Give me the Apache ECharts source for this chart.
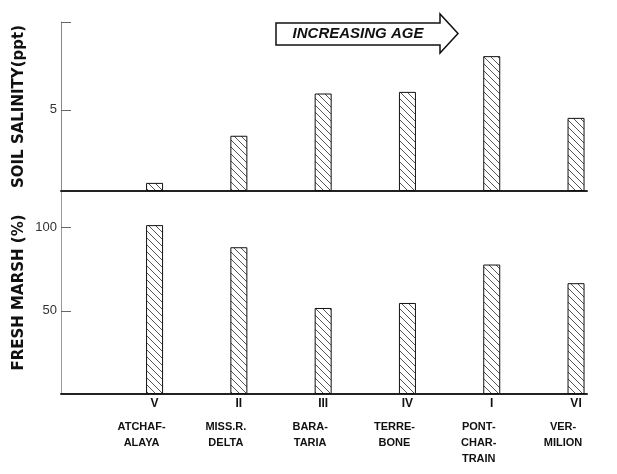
<!DOCTYPE html>
<html>
<head>
<meta charset="utf-8">
<script src="https://cdn.jsdelivr.net/npm/echarts@6/dist/echarts.min.js"></script>
<style>html,body{margin:0;padding:0;background:#fff}#c{width:617px;height:474px}</style>
</head>
<body>
<div id="c"></div>
<script>
// ---- data ----
const categories = ['ATCHAF-\nALAYA', 'MISS.R.\nDELTA', 'BARA-\nTARIA', 'TERRE-\nBONE', 'PONT-\nCHAR-\nTRAIN', 'VER-\nMILION'];
const numerals = ['V', 'II', 'III', 'IV', 'I', 'VI'];
const positions = [1, 2, 3, 4, 5, 6];
const salinity = [0.5, 3.4, 6.0, 6.1, 8.3, 4.5];
const freshMarsh = [101.5, 88.2, 51.7, 54.7, 77.8, 66.6];
const salinityTicks = [5];
const marshTicks = [50, 100];

// ---- hatch pattern ----
function hatch() {
  const s = 7;
  const c = document.createElement('canvas');
  c.width = s; c.height = s;
  const g = c.getContext('2d');
  g.fillStyle = '#fff'; g.fillRect(0, 0, s, s);
  g.strokeStyle = '#555'; g.lineWidth = 1;
  g.beginPath();
  g.moveTo(0, 0); g.lineTo(s, s);
  g.moveTo(-1, s - 1); g.lineTo(1, s + 1);
  g.moveTo(s - 1, -1); g.lineTo(s + 1, 1);
  g.stroke();
  return c;
}
const fill = { image: hatch(), repeat: 'repeat' };

const xMin = -0.11, xMax = 6.13;
const boldFont = 'Liberation Sans';

function xLabel(v) {
  const i = positions.indexOf(Math.round(v));
  if (i < 0) return '';
  return '{n|' + numerals[i] + '}\n{sp| }\n' +
    categories[i].split('\n').map(s => '{s|' + s + '}').join('\n');
}

const chart = echarts.init(document.getElementById('c'));
chart.setOption({
  animation: false,
  backgroundColor: '#fff',
  grid: [
    { left: 61, right: 30, top: 22, height: 169 },
    { left: 61, right: 30, top: 191, height: 203 }
  ],
  xAxis: [
    { type: 'value', gridIndex: 0, min: xMin, max: xMax,
      axisLine: { show: true, onZero: false, lineStyle: { color: '#222', width: 2 } },
      axisTick: { show: false }, axisLabel: { show: false }, splitLine: { show: false } },
    { type: 'value', gridIndex: 1, min: xMin, max: xMax,
      axisLine: { show: true, onZero: false, lineStyle: { color: '#222', width: 2 } },
      axisTick: { show: false }, splitLine: { show: false },
      axisLabel: {
        customValues: positions,
        formatter: xLabel,
        margin: 2,
        color: '#111',
        rich: {
          n: { fontSize: 12, fontWeight: 'bold', fontFamily: boldFont, lineHeight: 16, color: '#111' },
          sp: { fontSize: 4, lineHeight: 7 },
          s: { fontSize: 11, fontWeight: 'bold', fontFamily: boldFont, lineHeight: 16, color: '#111', padding: [0, 26, 0, 0] }
        }
      } }
  ],
  yAxis: [
    { type: 'value', gridIndex: 0, min: 0, max: 10.4,
      name: 'SOIL SALINITY(ppt)', nameLocation: 'middle', nameGap: 34, nameRotate: 90, nameMoveOverlap: false,
      nameTextStyle: { fontSize: 15, fontWeight: 'bold', fontFamily: 'DejaVu Sans', color: '#111' },
      axisLine: { show: true, onZero: false, lineStyle: { color: '#888', width: 1 } },
      axisTick: { show: true, inside: true, length: 10, customValues: [5, 10.4], lineStyle: { color: '#666' } },
      axisLabel: { customValues: salinityTicks, fontSize: 13, color: '#333', margin: 4, fontFamily: 'Liberation Sans' },
      splitLine: { show: false } },
    { type: 'value', gridIndex: 1, min: 0, max: 122,
      name: 'FRESH MARSH (%)', nameLocation: 'middle', nameGap: 34, nameRotate: 90, nameMoveOverlap: false,
      nameTextStyle: { fontSize: 15, fontWeight: 'bold', fontFamily: 'DejaVu Sans', color: '#111' },
      axisLine: { show: true, onZero: false, lineStyle: { color: '#999', width: 1 } },
      axisTick: { show: true, inside: true, length: 10, customValues: marshTicks, lineStyle: { color: '#666' } },
      axisLabel: { customValues: marshTicks, fontSize: 13, color: '#333', margin: 4, fontFamily: 'Liberation Sans' },
      splitLine: { show: false } }
  ],
  series: [
    { type: 'bar', xAxisIndex: 0, yAxisIndex: 0, barWidth: 17,
      data: positions.map((p, i) => [p, salinity[i]]),
      itemStyle: { color: fill, borderColor: '#111', borderWidth: 1 } },
    { type: 'bar', xAxisIndex: 1, yAxisIndex: 1, barWidth: 17,
      data: positions.map((p, i) => [p, freshMarsh[i]]),
      itemStyle: { color: fill, borderColor: '#111', borderWidth: 1 } }
  ],
  graphic: [
    { type: 'polygon', shape: { points: [[276, 23], [440, 23], [440, 14], [458, 33.5], [440, 53], [440, 45], [276, 45]] },
      style: { fill: '#fff', stroke: '#111', lineWidth: 1.5 } },
    { type: 'text', x: 358, y: 34,
      style: { text: 'INCREASING AGE', fontSize: 15, fontWeight: 'bold', fontStyle: 'italic', fontFamily: boldFont,
               fill: '#111', align: 'center', verticalAlign: 'middle' } }
  ]
});
</script>
</body>
</html>
